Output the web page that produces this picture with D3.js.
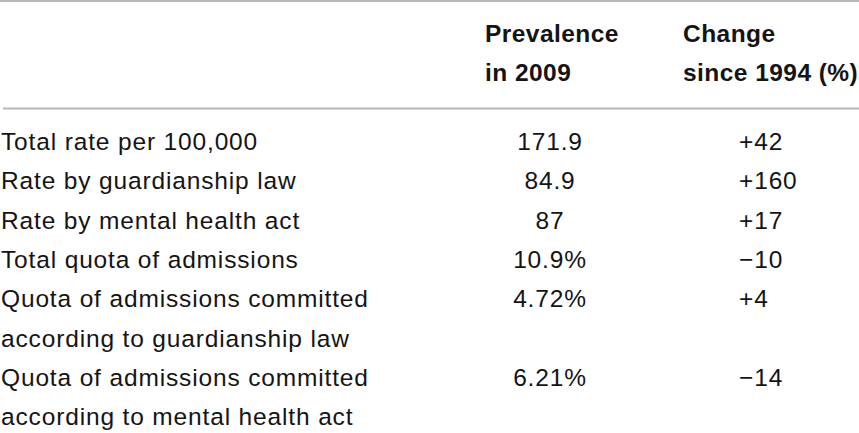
<!DOCTYPE html>
<html>
<head>
<meta charset="utf-8">
<script src="https://cdn.jsdelivr.net/npm/d3@7/dist/d3.min.js"></script>
<style>
  html, body { margin: 0; padding: 0; background: #fff; }
  svg { display: block; }
</style>
</head>
<body>
<svg id="chart" width="859" height="433"></svg>
<script>
// ---- data ----
const headers = [
  ["Prevalence", "in 2009"],
  ["Change", "since 1994 (%)"]
];
const rowLabels = [
  ["Total rate per 100,000"],
  ["Rate by guardianship law"],
  ["Rate by mental health act"],
  ["Total quota of admissions"],
  ["Quota of admissions committed", "according to guardianship law"],
  ["Quota of admissions committed", "according to mental health act"]
];
const prevalence2009 = ["171.9", "84.9", "87", "10.9%", "4.72%", "6.21%"];
const change1994 = ["+42", "+160", "+17", "\u221210", "+4", "\u221214"];

// ---- layout ----
const W = 859, H = 433;
const svg = d3.select("#chart");
const lineH = 39.3;
const bodyBase = 150;           // first body baseline
const y = d3.scaleLinear().domain([0, 1]).range([bodyBase, bodyBase + lineH]);
const yHead = d3.scaleLinear().domain([0, 1]).range([42, 42 + lineH]);

const col = { label: 1, prev: 550, change: 739 };
const font = "'Liberation Sans', Arial, Helvetica, sans-serif";
const ink = "#141414";
const bodySize = 24.5, bodySpacing = 0.85;

// rules
svg.append("line").attr("x1", 0).attr("x2", W).attr("y1", 1).attr("y2", 1)
  .attr("stroke", "#b8b8b8").attr("stroke-width", 2);
svg.append("line").attr("x1", 3).attr("x2", W).attr("y1", 108.5).attr("y2", 108.5)
  .attr("stroke", "#b8b8b8").attr("stroke-width", 2);

// headers
const headX = [485, 683];
headers.forEach((h, i) => {
  h.forEach((t, j) => {
    svg.append("text")
      .attr("x", headX[i]).attr("y", yHead(j))
      .attr("font-family", font).attr("font-weight", "bold")
      .attr("font-size", 24.5).attr("letter-spacing", 0.45).attr("fill", ink)
      .text(t);
  });
});

// body rows: compute starting line index per row
let startLine = [];
let acc = 0;
rowLabels.forEach(r => { startLine.push(acc); acc += r.length; });

function body(sel) {
  return sel.attr("font-family", font).attr("font-size", bodySize)
    .attr("letter-spacing", bodySpacing).attr("fill", ink);
}

const rows = svg.selectAll("g.row").data(rowLabels).join("g").attr("class", "row");
rows.each(function (lbl, i) {
  const g = d3.select(this);
  lbl.forEach((t, j) => {
    body(g.append("text"))
      .attr("x", col.label).attr("y", y(startLine[i] + j))
      .text(t);
  });
  body(g.append("text"))
    .attr("x", col.prev).attr("y", y(startLine[i]))
    .attr("text-anchor", "middle")
    .text(prevalence2009[i]);
  body(g.append("text"))
    .attr("x", col.change).attr("y", y(startLine[i]))
    .text(change1994[i]);
});
</script>
</body>
</html>
